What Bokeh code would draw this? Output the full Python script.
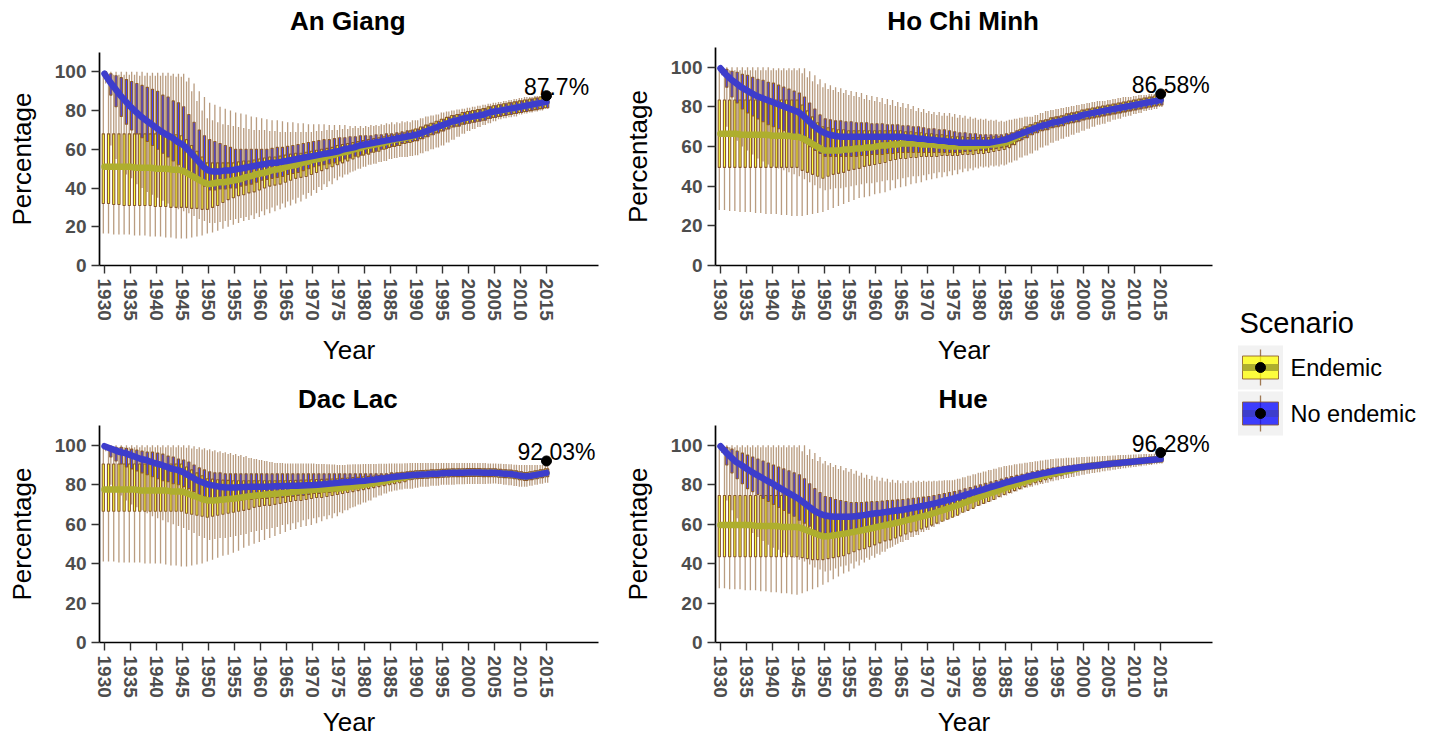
from bokeh.plotting import figure
from bokeh.models import ColumnDataSource, FixedTicker, Range1d
from bokeh.layouts import row, column
from bokeh.transform import dodge
from bokeh.core.properties import value
from bokeh.embed import file_html
from bokeh.resources import INLINE

# ---------------- data ----------------
years = list(range(1930, 2016))
x_ticks = [1930, 1935, 1940, 1945, 1950, 1955, 1960, 1965, 1970, 1975,
           1980, 1985, 1990, 1995, 2000, 2005, 2010, 2015]
y_ticks = [0, 20, 40, 60, 80, 100]
scenarios = ["Endemic", "No endemic"]
regions = ["An Giang", "Ho Chi Minh", "Dac Lac", "Hue"]
observed_2015 = [87.7, 86.58, 92.03, 96.28]
observed_labels = ["87.7%", "86.58%", "92.03%", "96.28%"]

# An Giang
ag_end_lo = [16.5,16.5,16,16,16,16,15.5,15.5,15.5,15, 15,15,14.5,14.5,14,14,14,14.5,15,15.5,
             16.5,17,18,19,20,21,22,23,23.5,24, 25,26,27,28,29,30,31,32,33,34.5,
             36,37.5,39,40.5,42,44,45.5,47,48.5,50, 51,52,52.5,53.5,54,55,55.5,56,56,56.5,
             57,58,59,60,61,62,63.5,65,66.5,68, 69.5,70.5,71.5,72.5,73.5,74.5,75.5,76,76.5,77,
             78,78.5,79,79.5,80,81]
ag_end_q1 = [32,32,31.5,31.5,31,31,31,31,31,31, 30.5,30.5,30.5,30,30,30,30,29.5,29.5,29,
             29,30,31,32.5,34,35,36,36.5,37.5,38, 39,40,41,41.5,42,43,44,45,45.5,46,
             47,48,49,50,51,52,53,54,55,56, 57,57.5,58.5,59,60,61,61.5,62,63,63.5,
             64.5,65.5,66.5,67.5,68.5,69.5,70.5,71.5,72,73, 73.5,74,74.5,75,76,76.5,77,77.5,78,78.5,
             79,79.5,80,80.5,81,81.5]
ag_end_med = [51,51,51,51,51,51,50.5,50.5,50.5,50.5, 50,50,50,49.5,49.5,49,47.5,46,44.5,43,
              42,42.5,43,43,43.5,44,44.5,45.5,46,47, 47.5,48,49,49.5,50,51,51.5,52,53,53.5,
              54.5,55,55.5,56.5,57,58,58.5,59,60,60.5, 61.5,62,62.5,63,63.5,64.5,65,65.5,66,66.5,
              67.5,68.5,69.5,70.5,71.5,72.5,73.5,74.5,75,76, 76.5,77,77.5,78,79,79.5,80,80.5,81,81.5,
              82,82.5,83,83.5,84,84.5]
ag_end_q3 = [68,68,68,68,68,68,68,68,68,68, 68,68,67.5,67.5,67.5,67,65,62,59,56,
             53,53,53,53,53,53,53.5,54,54,54.5, 55,55.5,56,56,56.5,57,57.5,58,58,58.5,
             59,59.5,60,60.5,61,62,62.5,63,63.5,64, 64.5,65,65.5,66,66.5,67,67.5,68,68.5,69.5,
             70.5,71.5,72.5,73.5,74.5,75.5,76.5,77.5,78,79, 79.5,80,80.5,81,82,82.5,83,83.5,84,84.5,
             85,85.5,86,86.5,87,87.5]
ag_end_hi = [98.5,98.5,98.5,98.5,98.5,98.5,98.5,98,98,98, 98,98,98,98,97.5,97.5,95,90,85,80,
             76,75,74,73,72.5,72,71.5,71,70.5,70, 70,70,69.5,69.5,69,69,69,69,69,69,
             69,69.5,69.5,70,70,70,70.5,70.5,71,71, 71,71.5,72,72,72.5,73,73,73.5,74,74,
             75,76,77,77.5,78,79,79.5,80,80.5,81, 81.5,82,82.5,83,83.5,84,84.5,85,85.5,86,
             86.5,87,87,87.5,87.5,88]
ag_noe_lo = [94,62,55,50,47,45,42,40,38,36.5, 35,33.5,32,30.5,29,28,27,25.5,24,23,
             22,22,22.5,23,23.5,24,24.5,25,26,27, 28,29,30,31,32,33,34,35,36.5,37.5,
             39,40.5,42,43.5,45,46,47,48,49,50, 51,52,52.5,53.5,54,55,55.5,56,56,56.5,
             57,58,59,60,61,62,63.5,65,66.5,68, 69.5,70.5,71.5,72.5,73.5,74.5,75.5,76,76.5,77,
             78,78.5,79,79.5,80,81]
ag_noe_q1 = [97,88,82,77,73,70,68,66,64,62, 60,58,56,54,52,50,47,45,43,41,
             39,39,39.5,39.5,40,40,41,41.5,42,43, 44,44.5,45,45.5,46,47,47.5,48,49,50,
             51,51.5,52,52.5,53,54,55,55.5,56.5,57, 58,58.5,59,60,60.5,61.5,62,63,63.5,64,
             64.5,65.5,66.5,67.5,68.5,69.5,70.5,71.5,72,73, 73.5,74,74.5,75,76,76.5,77,77.5,78,78.5,
             79,79.5,80,80.5,81,81.5]
ag_noe_med = [99,95,91.5,88,85,82,79.5,77,75,73, 71,69,67.5,66,64,62.5,60,57,54,51,
              49,48.5,48.5,49,49,49.5,50,50.5,51,51.5, 52,52.5,53,53,53.5,54,54.5,55,55.5,56,
              56.5,57,57.5,58,58.5,59,60,60.5,61,62, 62.5,63,63.5,64,64.5,65,65.5,66,66.5,67,
              67.5,68.5,69.5,70.5,71.5,72.5,73.5,74.5,75,76, 76.5,77,77.5,78,79,79.5,80,80.5,81,81.5,
              82,82.5,83,83.5,84,84.5]
ag_noe_q3 = [100,99,98,97,96,95,94,93,92,91, 90,88,87,85,84,82,78,74,70,67,
             65,64,63,62,61,60,60,60,60,60, 60,60,60.5,61,61,61.5,62,62.5,63,63.5,
             64,64.5,65,65,65.5,66,66,66.5,66.5,67, 67,67,67.5,67.5,68,68,68.5,69,69.5,70,
             70.5,71.5,72.5,73.5,74.5,75.5,76.5,77.5,78,79, 79.5,80,80.5,81,82,82.5,83,83.5,84,84.5,
             85,85.5,86,86.5,87,87.5]
ag_noe_hi = [100,100,100,100,100,100,100,100,99.5,99.5, 99.5,99.5,99.5,99,99,99,97,94,90,87,
             84,83,82,81,80,79,78.5,78,77,76.5, 76,75.5,75,75,74.5,74,74,73.5,73.5,73,
             73,73,73,72.5,72.5,72.5,72.5,72,72,72, 72,72.5,72.5,73,73.5,74,74,74.5,74.5,75,
             75,76,77,77.5,78,79,79.5,80,80.5,81, 81.5,82,82.5,83,83.5,84,84.5,85,85.5,86,
             86.5,87,87,87.5,87.5,88]

# Ho Chi Minh
hcm_end_lo = [28,28,27.5,27.5,27,27,27,26.5,26.5,26, 26,26,25.5,25.5,25,25,25,25.5,26,26.5,
              27,28,29,30,31,32,33,34,34.5,35, 36,36.5,37,38,39,39.5,40,41,41.5,42,
              43,43.5,44,44.5,45,45.5,46,47,47.5,48, 49,49.5,49.5,50,50,50.5,52,53,54.5,55.5,
              56.5,58,59.5,60.5,62,63,64,65,66,67, 68,69,70,71,71.5,72.5,73.5,74,75,75.5,
              76.5,77,78,78.5,79,80]
hcm_end_q1 = [49.5,49.5,49.5,49.5,49.5,49.5,49.5,49.5,49.5,49.5, 49.5,49.5,49.5,49.5,49.5,49.5,48,47,46,45,
              44,45,46,46.5,47,48,48.5,49,50,50.5, 51,51.5,52,53,53.5,54,54,54.5,54.5,55,
              55,55,55,55.5,55.5,55.5,55.5,56,56,56, 56.5,56.5,57,57.5,58,58.5,59.5,61,63,64.5,
              66,67,68,68.5,69.5,70,70.5,71.5,72,72.5, 73.5,74,74.5,75,75.5,76,76.5,77,77.5,78,
              78.5,79,79.5,80,80.5,81]
hcm_end_med = [66.5,66.5,66.5,66.5,66,66,66,66,66,66, 65.5,65.5,65.5,65.5,65,65,64,62.5,61,59.5,
               58,58,58,58,58.5,58.5,59,59,59.5,59.5, 60,60.5,60.5,61,61,61.5,61.5,61.5,61.5,61,
               61,61,60.5,60.5,60,60,60,60,60,60, 60.5,60.5,61,61,61.5,62,63,64.5,66,67.5,
               68.5,69.5,70.5,71,72,72.5,73,74,74.5,75, 76,76.5,77,77.5,78,78.5,79,79.5,80,80.5,
               81,81.5,82,82.5,83,83.5]
hcm_end_q3 = [83.5,83.5,83.5,83.5,83.5,83.5,83.5,83.5,83.5,83.5, 83.5,83.5,83.5,83.5,83.5,83.5,81,78,75,72,
              70,69.5,69,68.5,68.5,68,68,68,68,68, 68,68,68,68,68,68,67.5,67.5,67,67,
              66.5,66.5,66,66,65.5,65,65,65,64.5,64.5, 64.5,64.5,64.5,65,65,65,66,67,68.5,70,
              71,72,73,73.5,74.5,75,75.5,76.5,77,77.5, 78.5,79,79.5,80,80.5,81,81.5,82,82.5,83,
              83.5,84,84.5,85,85.5,86]
hcm_end_hi = [98.5,98.5,98.5,98.5,98.5,98.5,98.5,98.5,98.5,98.5, 98.5,98.5,98.5,98.5,98.5,98.5,97,95,93,91.5,
              90,89,88.5,87.5,87,86,85.5,85,84,83.5, 83,82.5,81.5,81,80.5,80,79.5,79,78,77.5,
              77,76.5,76,75.5,75.5,75,74.5,74.5,74,74, 73.5,73.5,73,73,72.5,72.5,73.5,74,74.5,75,
              75,76,77,78,78.5,79,79.5,80,80.5,81, 81.5,82,82.5,83,83,83.5,84,84.5,85,85,
              85.5,86,86,86.5,86.5,87]
hcm_noe_lo = [96,70,66,63,60,58,56,54,52.5,51, 50,49,48,47,46,45,43.5,42,40.5,39,
              38,38.5,39,39,39.5,40,40.5,41,41.5,41.5, 42,42.5,43,43,43.5,44,44.5,45,45,45.5,
              46,46.5,47,47,47.5,48,48.5,49,49,49.5, 50,50,50.5,50.5,51,51,52,53,54.5,55.5,
              56.5,58,59.5,60.5,62,63,64,65,66,67, 68,69,70,71,71.5,72.5,73.5,74,75,75.5,
              76.5,77,78,78.5,79,80]
hcm_noe_q1 = [98,90,85,82,79,77,75.5,74,72.5,71, 70,69,68,66.5,65.5,64,62,60,58,56.5,
              55,55,55,55,55,55,55,55.5,55.5,56, 56,56,56.5,56.5,57,57,57,57,57,57,
              57,57,57,57,57,57,57,57.5,57.5,58, 58,58,58.5,59,59.5,60,61,62.5,63.5,64.5,
              66,67,68,68.5,69.5,70,70.5,71.5,72,72.5, 73.5,74,74.5,75,75.5,76,76.5,77,77.5,78,
              78.5,79,79.5,80,80.5,81]
hcm_noe_med = [99.5,96.5,94,92,90,88.5,87,85.5,84.5,83.5, 82.5,81.5,80.5,79.5,78.5,77.5,75.5,73,70.5,68.5,
               67,66,65.5,65,65,65,65,65,65,65, 65,65,65,65,65,65,64.5,64.5,64,64,
               63.5,63.5,63,63,62.5,62.5,62,62,62,62, 62,62,62,62.5,63,63.5,64.5,65.5,66.5,67.5,
               68.5,69.5,70.5,71,72,72.5,73,74,74.5,75, 76,76.5,77,77.5,78,78.5,79,79.5,80,80.5,
               81,81.5,82,82.5,83,83.5]
hcm_noe_q3 = [100,99,98,97.5,96.5,96,95,94,93.5,92.5, 92,91,90,89,88,87,85,82,79,76,
              74,73.5,73,73,72.5,72.5,72,72,72,71.5, 71.5,71.5,71,71,71,70.5,70.5,70,70,69.5,
              69,69,68.5,68.5,68,67.5,67,67,66.5,66.5, 66,66,66,66,66,66.5,67,68,69,70,
              71,72,73,73.5,74.5,75,75.5,76.5,77,77.5, 78.5,79,79.5,80,80.5,81,81.5,82,82.5,83,
              83.5,84,84.5,85,85.5,86]
hcm_noe_hi = [100,100,100,100,100,100,100,100,100,100, 99.5,99.5,99.5,99.5,99.5,99.5,99.5,98,96,94,
              92,91,90,89.5,88.5,88,87.5,87,86,85.5, 85,84.5,84,83.5,82.5,82,81.5,80.5,79.5,79,
              78,77.5,77.5,77,77,76.5,76,75.5,75,74.5, 74,74,73.5,73.5,73,73,73.5,74,74.5,75,
              75,76,77,78,78.5,79,79.5,80,80.5,81, 81.5,82,82.5,83,83,83.5,84,84.5,85,85,
              85.5,86,86,86.5,86.5,87]

# Dac Lac
dl_end_lo = [41,41,41,40.5,40.5,40.5,40.5,40.5,40,40, 40,40,39.5,39,39,38.5,38.5,39,39.5,40,
             41,42,43,44,44.5,45.5,46.5,48,49,50, 51,52,53,54,55,56,57,57.5,58.5,59,
             59.5,60.5,61.5,62.5,63,64,65.5,67,68.5,70, 71,72,73.5,74.5,75.5,76.5,77,77.5,78,78,
             78.5,79,79,79.5,79.5,80,80,80,80.2,80.2, 80.3,80.3,80.4,80.4,80.5,80.6,80.3,80,79.7,79.3,
             79,79,79.5,80,80.5,81]
dl_end_q1 = [66.5,66.5,66.5,66.5,66.5,66.5,66.5,66.5,66.5,66.5, 66.5,66.5,66.5,66.5,66.5,66.5,65.5,65,64.5,64,
             63.5,64,64.5,65,65.5,66,66.5,67,67.5,68.5, 69,69.5,69.5,70,70.5,71,71.5,72,72,72.5,
             73,73.5,73.5,74,74.5,75,75.5,76,76.5,77, 77.5,78,78.5,79,79.5,80,80.5,81,81.5,82.5,
             83,83.2,83.3,83.5,83.6,83.8,83.9,84,84.1,84.1, 84.2,84.2,84.2,84.1,84.1,84,83.8,83.6,83.4,83,
             82.5,82.2,82.5,83,83.5,84]
dl_end_med = [77.5,77.5,77.5,77.5,77.5,77.5,77.5,77,77,77, 77,77,77,76.5,76.5,76.5,75.5,74.5,73.5,72.5,
              72,72,72.2,72.5,72.8,73,73.4,73.8,74.2,74.5, 74.7,75,75.2,75.4,75.7,75.9,76.2,76.5,76.8,77,
              77.3,77.5,77.6,77.8,78,78.1,78.4,78.8,79.2,79.6, 80,80.5,81,81.5,82,82.5,83,83.5,84,84.5,
              85,85.2,85.3,85.5,85.6,85.8,85.9,86,86.1,86.1, 86.2,86.2,86.2,86.1,86.1,86,85.8,85.6,85.4,85,
              84.5,84.2,84.5,85,85.5,86]
dl_end_q3 = [90.5,90.5,90.5,90.5,90.5,90.5,90.5,90.5,90.5,90.5, 90.5,90.5,90.5,90.5,90.5,90.5,89,87.5,86,84.5,
             83,82.8,82.5,82.3,82.2,82,82,82,82,82, 82,82,82,82,82,82,82.1,82.2,82.3,82.4,
             82.5,82.6,82.7,82.8,82.9,83,83.2,83.4,83.6,83.8, 84,84.2,84.4,84.6,84.8,85,85.5,86,86.3,86.8,
             87,87.2,87.3,87.5,87.6,87.8,87.9,88,88.1,88.1, 88.2,88.2,88.2,88.1,88.1,88,87.8,87.6,87.4,87,
             86.5,86.2,86.5,87,87.5,88]
dl_end_hi = [99,99,99,99,99,99,99,99,99,99, 99,99,99,99,99,99,98.7,98.4,98.1,97.8,
             97.5,97,96.5,96,95.5,95,94.5,94,93.5,93, 92.5,92,91.5,91,91,90.7,90.7,90.7,90.7,90.7,
             90.7,90.5,90.5,90.3,90.2,90,90,90.2,90.3,90.4, 90.5,90.5,90.5,90.6,90.6,90.7,90.7,90.8,90.9,91,
             91,91,91,91,91,91,91,91,91,91, 91,91,91,91,90.8,90.7,90.6,90.5,90.3,90.1,
             90,90,90,90,90,90]
dl_noe_lo = [97,80,77,74.5,72,70,68.5,67,65.5,64, 63,62,61,60,59,58,57,55.5,54,53,
             52,52.5,53,53,53.5,54,54.5,55,56,56.5, 57,57.5,58,58.5,59.5,60,60.5,61,62,62.5,
             63,63.5,64,64.5,65.5,66,67,68,69,70, 71,72,73.5,74.5,75.5,76.5,77,77.5,78,78,
             78.5,79,79,79.5,79.5,80,80,80,80.2,80.2, 80.3,80.3,80.4,80.4,80.5,80.6,80.3,80,79.7,79.3,
             79,79,79.5,80,80.5,81]
dl_noe_q1 = [99,94,92,90.5,89,88,87,86,85,84, 83,82,81.5,80.5,80,79,78,76.5,75,74,
             73,72.5,72.5,72,72,72,72,72.5,72.5,73, 73,73,73.5,73.5,73.5,74,74,74.5,74.5,75,
             75.5,75.5,76,76,76.5,77,77.5,78,78,78.5, 79,79.5,80,80.5,81,81.5,82,82.3,82.5,82.8,
             83,83.2,83.3,83.5,83.6,83.8,83.9,84,84.1,84.1, 84.2,84.2,84.2,84.1,84.1,84,83.8,83.6,83.4,83,
             82.5,82.2,82.5,83,83.5,84]
dl_noe_med = [99.5,98.5,97.5,96.5,96,95,94,93,92.5,91.5, 90.7,90,89,88,87.5,86.5,85,83.5,82,81,
              80,79.5,79,78.7,78.6,78.6,78.7,78.8,78.9,79, 79,79,79.1,79.2,79.3,79.3,79.4,79.5,79.6,79.7,
              79.8,80,80.2,80.5,80.7,81,81.2,81.4,81.6,81.8, 82,82.3,82.6,83,83.3,83.7,84,84.3,84.5,84.8,
              85,85.2,85.3,85.5,85.6,85.8,85.9,86,86.1,86.1, 86.2,86.2,86.2,86.1,86.1,86,85.8,85.6,85.4,85,
              84.5,84.2,84.5,85,85.5,86]
dl_noe_q3 = [100,99.5,99,99,98.5,98,97.5,97,96.5,96.5, 96,95.5,94.5,94,93,92.5,91.5,90,88.5,87.5,
             86.5,86,86,85.5,85.5,85.5,85.5,85.5,85.5,85.5, 85.5,85.5,85.5,85.5,85.5,85.5,85.5,85.5,85.5,85.5,
             85.5,85.5,85.5,85.5,85.5,85.5,85.5,85.5,85.5,85.5, 85.5,85.5,85.5,85.5,85.5,86,86,86.3,86.5,86.8,
             87,87.2,87.3,87.5,87.6,87.8,87.9,88,88.1,88.1, 88.2,88.2,88.2,88.1,88.1,88,87.8,87.6,87.4,87,
             86.5,86.2,86.5,87,87.5,88]
dl_noe_hi = [100,100,100,100,100,100,100,100,100,100, 100,100,100,100,100,100,100,99.5,99,98.5,
             98,97.5,97,96.5,96,95.5,95,94.5,93.5,93, 92.5,92,91.5,91,91,90.7,90.7,90.7,90.7,90.7,
             90.7,90.5,90.5,90.3,90.2,90,90,90.2,90.3,90.4, 90.5,90.5,90.5,90.6,90.6,90.7,90.7,90.8,90.9,91,
             91,91,91,91,91,91,91,91,91,91, 91,91,91,91,90.8,90.7,90.6,90.5,90.3,90.1,
             90,90,90,90,90,90]

# Hue
hue_end_lo = [27.5,27.5,27,27,27,26.5,26.5,26.5,26,26, 25.5,25.5,25,25,24.5,24.2,25,26,27,28,
              29.3,30.5,32,33.5,35,36,37.5,39,40.5,42, 43,44.5,46,48,49.5,51,52,53.5,54.5,56,
              57,58.5,60,61.5,62.5,63.8,65,66,67.5,68.5, 69.5,70.5,71.5,72.5,73.5,74.5,75.5,76.5,77.5,78.5,
              79,79.7,80.4,81,81.7,82.3,82.9,83.4,83.9,84.5, 85,85.5,85.9,86.3,86.8,87.2,87.6,88,88.3,88.7,
              89,89.3,89.7,90,90.4,90.7]
hue_end_q1 = [43.5,43.5,43.5,43.5,43.5,43.5,43.5,43.5,43.5,43.5, 43.5,43.5,43.5,43.5,43.5,43.5,43,42.5,42,42,
              42,42.5,43,43.5,44,45,46,47,47.5,48.5, 49.5,50.5,51.5,52,53,54,55,56,56.5,57.5,
              58.5,59.5,60.5,61.5,62.5,63.5,64.5,66,67,68, 69.5,70.5,71.5,72.5,74,75,76,77,78,79,
              80,81,81.5,82.5,83,84,84.5,85.5,86,86.8, 87.5,87.8,88.1,88.4,88.7,89,89.3,89.5,89.8,90,
              90.3,90.5,90.8,91,91.3,91.5]
hue_end_med = [59.5,59.5,59.5,59.5,59.5,59.5,59.5,59,59,59, 59,59,58.5,58.5,58.5,58.5,57.5,56.5,55.5,54.5,
               53.7,54,54.4,54.8,55.2,55.7,56.2,56.7,57.3,57.8, 58.4,59,59.6,60.1,60.7,61.3,62,62.6,63.3,63.9,
               64.6,65.4,66.3,67.1,68,68.8,69.7,70.7,71.7,72.7, 73.7,74.7,75.6,76.5,77.4,78.3,79.2,80.1,81,81.9,
               82.7,83.5,84.2,84.9,85.5,86,86.5,87,87.6,88.2, 89,89.3,89.6,89.9,90.2,90.5,90.8,91,91.3,91.5,
               91.8,92,92.3,92.5,92.8,93]
hue_end_q3 = [74.5,74.5,74.5,74.5,74.5,74.5,74.5,74.5,74.5,74.5, 74.5,74.5,74.5,74.5,74.5,74.5,73,71,69,67,
              65,65,65,65,65,65,65.3,65.6,65.9,66.2, 66.5,66.9,67.3,67.7,68.1,68.5,68.9,69.3,69.7,70.1,
              70.5,71,71.5,72,72.5,73,73.8,74.6,75.4,76.2, 77,77.7,78.4,79.1,79.8,80.5,81.3,82.1,82.9,83.7,
              84.5,85.1,85.7,86.3,86.9,87.5,88,88.5,89,89.6, 90.5,90.8,91.1,91.4,91.7,92,92.3,92.5,92.8,93,
              93.3,93.5,93.8,94,94.3,94.5]
hue_end_hi = [99,99,99,99,99,99,99,99,99,99, 99,99,99,99,99,99,97,95,93,92,
              90.7,89.8,89,88,87.3,86.5,85.5,84.5,83.5,82.9, 82.3,82,81.6,81.2,81,80.7,80.8,81,81.2,81.4,
              81.5,81.6,81.8,82,82.2,82.3,83,83.8,84.5,85.3, 86,86.7,87.4,88.1,88.8,89.5,89.9,90.3,90.7,91.1,
              91.5,91.9,92.3,92.6,93,93.3,93.4,93.6,93.7,93.9, 94,94.1,94.3,94.4,94.6,94.7,94.8,95,95.1,95.2,
              95.3,95.4,95.5,95.6,95.7,95.8]
hue_noe_lo = [96,72,67,63,60,58,55.5,53.5,51.5,49.5, 48,47,45.5,44.5,43,42,41,39.5,38,37,
              36,36.5,37.5,38.5,39,40,41,42,43,44, 45,46,47.5,48.5,50,51,52,53.5,54.5,56,
              57,58.5,60,61.5,62.5,63.8,65,66,67.5,68.5, 69.5,70.5,71.5,72.5,73.5,74.5,75.5,76.5,77.5,78.5,
              79,79.7,80.4,81,81.7,82.3,82.9,83.4,83.9,84.5, 85,85.5,85.9,86.3,86.8,87.2,87.6,88,88.3,88.7,
              89,89.3,89.7,90,90.4,90.7]
hue_noe_q1 = [98,90,86,83,80.5,78,76.5,75,73,71.5, 70,68.5,67,65.5,64,62,60.5,59,57,55.5,
              54,54,54.5,54.5,55,55,55.5,56,57,57.5, 58,58.5,59.5,60,61,61.5,62,63,63.5,64.5,
              65,66,67,67.5,68.5,69.5,70.5,71.5,72,73, 74,75,76,77,77.5,78.5,79.5,80,81,81.5,
              82.5,83,83.5,84,85,85.5,86,86.5,86.8,87.2, 87.5,87.8,88.1,88.4,88.7,89,89.3,89.5,89.8,90,
              90.3,90.5,90.8,91,91.3,91.5]
hue_noe_med = [99.5,96.5,94,91.5,90,88.2,86.5,85,83.5,82, 80.7,79,77.5,76,74.5,73,71,69,67,65.5,
               64.5,64,63.8,63.7,63.7,63.8,64,64.3,64.7,65.1, 65.5,65.8,66.2,66.5,66.9,67.2,67.7,68.2,68.7,69.2,
               69.7,70.3,70.9,71.6,72.3,73,73.8,74.6,75.4,76.2, 77,77.8,78.6,79.4,80.2,81,81.7,82.4,83.1,83.8,
               84.5,85,85.6,86.1,86.7,87.2,87.6,88,88.3,88.7, 89,89.3,89.6,89.9,90.2,90.5,90.8,91,91.3,91.5,
               91.8,92,92.3,92.5,92.8,93]
hue_noe_q3 = [100,99,98,97,96,95,94,93,92,91, 90,89,88,87,86,85,83,80.5,78,76,
              74,73.5,72.5,72,71.5,71,71,71,71.2,71.4, 71.5,71.7,71.9,72.1,72.3,72.5,72.8,73.1,73.4,73.7,
              74,74.5,75,75.5,76,76.5,77.2,77.9,78.6,79.3, 80,80.7,81.4,82.1,82.8,83.5,84.1,84.7,85.3,85.9,
              86.5,87,87.5,88,88.5,89,89.3,89.6,89.9,90.2, 90.5,90.8,91.1,91.4,91.7,92,92.3,92.5,92.8,93,
              93.3,93.5,93.8,94,94.3,94.5]
hue_noe_hi = [100,100,100,100,100,100,100,100,100,100, 100,100,100,100,100,100,100,98,96,94,
              92,91,90,89.5,88.5,88,87,86,85,84.5, 84,83.5,83,82.5,82.3,82,82,82,82,82,
              82,82,82.1,82.2,82.3,82.5,83,83.8,84.5,85.3, 86,86.7,87.4,88.1,88.8,89.5,89.9,90.3,90.7,91.1,
              91.5,91.9,92.3,92.6,93,93.3,93.4,93.6,93.7,93.9, 94,94.1,94.3,94.4,94.6,94.7,94.8,95,95.1,95.2,
              95.3,95.4,95.5,95.6,95.7,95.8]

# ---------------- style ----------------
FONT = "Liberation Sans"
BROWN = "#8B5A2B"
FILL = {"Endemic": "#FFFF00", "No endemic": "#0000FF"}
MEDLINE = {"Endemic": "#AEAE2E", "No endemic": "#3D3DCC"}
OFFSET = {"Endemic": -0.225, "No endemic": 0.225}

panel_data = [
    ({"Endemic": (ag_end_lo, ag_end_q1, ag_end_med, ag_end_q3, ag_end_hi),
      "No endemic": (ag_noe_lo, ag_noe_q1, ag_noe_med, ag_noe_q3, ag_noe_hi)}),
    ({"Endemic": (hcm_end_lo, hcm_end_q1, hcm_end_med, hcm_end_q3, hcm_end_hi),
      "No endemic": (hcm_noe_lo, hcm_noe_q1, hcm_noe_med, hcm_noe_q3, hcm_noe_hi)}),
    ({"Endemic": (dl_end_lo, dl_end_q1, dl_end_med, dl_end_q3, dl_end_hi),
      "No endemic": (dl_noe_lo, dl_noe_q1, dl_noe_med, dl_noe_q3, dl_noe_hi)}),
    ({"Endemic": (hue_end_lo, hue_end_q1, hue_end_med, hue_end_q3, hue_end_hi),
      "No endemic": (hue_noe_lo, hue_noe_q1, hue_noe_med, hue_noe_q3, hue_noe_hi)}),
]

TITLE_H = 36
# width, height (below title strip), border left, right, top, bottom, x-label standoff, title shift
geometry = [
    (616, 342, 99, 18, 16, 113, 11, -42),
    (609, 342, 99, 13, 11, 113, 11, -44),
    (616, 325, 99, 18, 11, 96, 6, -42),
    (609, 325, 99, 13, 11, 96, 6, -44),
]


def make_title(idx):
    w, h, bl, br, bt, bb, xso, tshift = geometry[idx]
    t = figure(width=w, height=TITLE_H, output_backend="svg", toolbar_location=None,
               x_range=Range1d(0, w), y_range=Range1d(TITLE_H, 0),
               x_axis_type=None, y_axis_type=None, min_border=0)
    t.outline_line_color = None
    t.background_fill_color = "white"
    t.border_fill_color = "white"
    t.grid.visible = False
    frame_center = bl + (w - bl - br) / 2 + tshift
    t.text([frame_center], [20], text=[regions[idx]], text_align="center", text_baseline="middle",
           text_font=value(FONT), text_font_size="26px", text_font_style="bold", text_color="black")
    return t


def make_panel(idx):
    w, h, bl, br, bt, bb, xso, tshift = geometry[idx]
    p = figure(width=w, height=h, output_backend="svg", toolbar_location=None,
               x_range=Range1d(1929.04, 2025), y_range=Range1d(0, 110),
               min_border_left=bl, min_border_right=br, min_border_top=bt, min_border_bottom=bb)
    p.outline_line_color = None
    p.background_fill_color = "white"
    p.border_fill_color = "white"
    p.xgrid.visible = False
    p.ygrid.visible = False

    data = panel_data[idx]
    sources = {}
    for s in scenarios:
        lo, q1, med, q3, hi = data[s]
        sources[s] = ColumnDataSource(dict(year=years, lo=lo, q1=q1, med=med, q3=q3, hi=hi))
    for s in scenarios:
        src = sources[s]
        xx = dodge("year", OFFSET[s])
        p.segment(x0=xx, y0="lo", x1=xx, y1="q1", source=src,
                  line_color=BROWN, line_alpha=0.6, line_width=1.3)
        p.segment(x0=xx, y0="q3", x1=xx, y1="hi", source=src,
                  line_color=BROWN, line_alpha=0.6, line_width=1.3)
    for s in scenarios:
        src = sources[s]
        p.vbar(x=dodge("year", OFFSET[s]), width=0.42, bottom="q1", top="q3", source=src,
               fill_color=FILL[s], fill_alpha=0.75, line_color=BROWN, line_alpha=1.0, line_width=1.1)
    for s in scenarios:
        p.line("year", "med", source=sources[s], line_color=MEDLINE[s], line_width=6.5,
               line_join="round", line_cap="round")

    p.scatter([years[-1]], [observed_2015[idx]], size=10, color="black")
    p.text([years[-1]], [observed_2015[idx]], text=[observed_labels[idx]], x_offset=10, y_offset=-9,
           text_align="center", text_baseline="middle", text_font=value(FONT),
           text_font_size="23px", text_color="black")

    p.xaxis.ticker = FixedTicker(ticks=x_ticks)
    p.yaxis.ticker = FixedTicker(ticks=y_ticks)
    p.xaxis.major_label_orientation = "vertical"
    p.xaxis.axis_label = "Year"
    p.yaxis.axis_label = "Percentage"
    for ax in (p.xaxis[0], p.yaxis[0]):
        ax.axis_line_color = "black"
        ax.axis_line_width = 1.7
        ax.major_tick_line_color = "#333333"
        ax.major_tick_line_width = 1.4
        ax.major_tick_out = 8
        ax.major_tick_in = 0
        ax.minor_tick_line_color = None
        ax.major_label_text_font = FONT
        ax.major_label_text_font_style = "bold"
        ax.major_label_text_font_size = "19px"
        ax.major_label_text_color = "#4D4D4D"
        ax.major_label_standoff = 5
        ax.axis_label_text_font = FONT
        ax.axis_label_text_font_style = "normal"
        ax.axis_label_text_font_size = "26px"
        ax.axis_label_text_color = "black"
    p.xaxis[0].axis_label_standoff = xso
    p.yaxis[0].axis_label_standoff = 15
    return p


titles = [make_title(i) for i in range(4)]
panels = [make_panel(i) for i in range(4)]

# ---------------- legend (separate figure, pixel coordinates) ----------------
leg = figure(width=208, height=739, output_backend="svg", toolbar_location=None,
             x_range=Range1d(0, 208), y_range=Range1d(739, 0),
             x_axis_type=None, y_axis_type=None, min_border=0)
leg.outline_line_color = None
leg.background_fill_color = "white"
leg.border_fill_color = "white"
leg.grid.visible = False

key_tops = [345, 391]
key_h = 44
leg.text([14], [322], text=["Scenario"], text_font=value(FONT), text_font_size="29px",
         text_baseline="middle", text_align="left", text_color="black")
for kt, s in zip(key_tops, scenarios):
    cy = kt + key_h / 2
    leg.quad(left=[12.5], right=[57.5], top=[kt], bottom=[kt + key_h],
             fill_color="#F2F2F2", line_color=None)
    leg.segment(x0=[35], y0=[kt + 4], x1=[35], y1=[kt + key_h - 4],
                line_color=BROWN, line_alpha=0.8, line_width=1.3)
    leg.quad(left=[17], right=[53], top=[cy - 11.5], bottom=[cy + 11.5],
             fill_color=FILL[s], fill_alpha=0.75, line_color=BROWN, line_alpha=0.85, line_width=1)
    leg.segment(x0=[17], y0=[cy], x1=[53], y1=[cy], line_color=MEDLINE[s], line_width=7)
    leg.scatter([35], [cy], size=10, color="black")
    leg.text([65], [cy], text=[s], text_font=value(FONT), text_font_size="23.5px",
             text_baseline="middle", text_align="left", text_color="black")

layout = row(column(titles[0], panels[0], titles[2], panels[2]),
             column(titles[1], panels[1], titles[3], panels[3]),
             leg)

open("out.html", "w").write(file_html(layout, INLINE))
